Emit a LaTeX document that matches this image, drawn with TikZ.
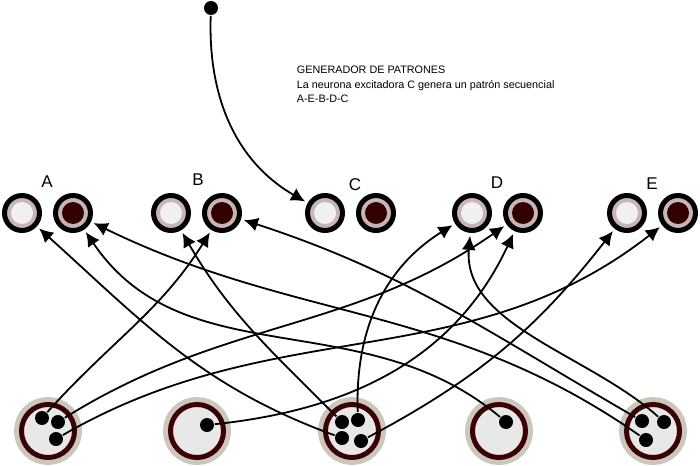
\documentclass[tikz,border=0pt]{standalone}
\usepackage{fontspec}
\setmainfont{Liberation Sans}
\usetikzlibrary{arrows.meta, calc}

\definecolor{anillo}{HTML}{C9B5B4}
\definecolor{nucleoclaro}{HTML}{F0F0F0}
\definecolor{nucleooscuro}{HTML}{330000}
\definecolor{halo}{HTML}{CCC7BD}
\definecolor{borde}{HTML}{3A0202}
\definecolor{cuerpo}{HTML}{E8E8E8}

\begin{document}
\begin{tikzpicture}[x=0.5pt, y=0.5pt, >={Latex[length=7pt, width=7pt]}, line width=0.9pt]

  % --- CONFIGURACIÓN GENERAL ---
  % alturas de las dos filas (px hacia abajo)
  \def\yTop{-213}
  \def\yBot{-431}
  % separación entre las dos neuronas de cada par
  \def\dxPar{51}

  \tikzset{
    exc/.style={circle, draw=black, line width=2.5pt, fill=anillo,
      minimum size=17.5pt, inner sep=0pt,
      path picture={\fill[nucleoclaro] (path picture bounding box.center) circle (5.5pt);}},
    inh/.style={circle, draw=black, line width=2.5pt, fill=anillo,
      minimum size=17.5pt, inner sep=0pt,
      path picture={\fill[nucleooscuro] (path picture bounding box.center) circle (5.5pt);}},
    motora/.style={circle, draw=borde, line width=2.5pt, fill=cuerpo,
      minimum size=26.5pt, inner sep=0pt,
      preaction={draw=halo, line width=7.5pt}},
    punto/.style={circle, fill=black, minimum size=7pt, inner sep=0pt},
    etiqueta/.style={font=\fontsize{8.5}{10}\selectfont, inner sep=0pt},
    sinapsis/.style={->, shorten >=1.5pt}
  }

  \useasboundingbox (0,0) rectangle (700,-465);

  % --- FILA SUPERIOR (pares A..E) ---
  \foreach \nom/\x/\xl/\yl in {A/22/47/-182, B/171/198/-180, C/325/355/-185, D/472/497/-183, E/627/652/-184} {
    \node[exc] (\nom1) at (\x, \yTop) {};
    \node[inh] (\nom2) at (\x+\dxPar, \yTop) {};
    \node[etiqueta] (lab\nom) at (\xl, \yl) {\nom};
  }

  % --- FILA INFERIOR ---
  \foreach \i/\x in {1/48, 2/197, 3/352, 4/499, 5/653} {
    \node[motora] (M\i) at (\x, \yBot) {};
  }

  % terminales (puntos negros)
  \node[punto] (m1a) at ($(M1)+(-6,13)$) {};
  \node[punto] (m1b) at ($(M1)+(10,9)$) {};
  \node[punto] (m1c) at ($(M1)+(8,-8)$) {};
  \node[punto] (m2a) at ($(M2)+(10,6)$) {};
  \node[punto] (m3a) at ($(M3)+(-10,9)$) {};
  \node[punto] (m3b) at ($(M3)+(6,11)$) {};
  \node[punto] (m3c) at ($(M3)+(-10,-7)$) {};
  \node[punto] (m3d) at ($(M3)+(9,-10)$) {};
  \node[punto] (m4a) at ($(M4)+(7,9)$) {};
  \node[punto] (m5a) at ($(M5)+(-11,10)$) {};
  \node[punto] (m5b) at ($(M5)+(11,9)$) {};
  \node[punto] (m5c) at ($(M5)+(-7,-9)$) {};

  % --- GENERADOR ---
  \node[punto] (gen) at (211,-8) {};
  \draw[sinapsis] (gen) to[out=-92, in=150] (C1);

  % ancla en la línea base de la última línea
  \node[font=\fontsize{5.4}{7.3}\selectfont, align=left, anchor=base west, inner sep=0pt] (texto) at (296,-103)
    {GENERADOR DE PATRONES\\La neurona excitadora C genera un patrón secuencial\\A-E-B-D-C};

  % --- CONEXIONES ---
  % desde M1
  \draw[sinapsis] (m1a) to[out=48, in=-122] (B2);
  \draw[sinapsis] (m1b) to[out=32, in=-145] (D2);
  \draw[sinapsis] (m1c) to[out=30, in=-142] (E2);
  % desde M2
  \draw[sinapsis] (m2a) to[out=6, in=-115] (D2);
  % desde M3
  \draw[sinapsis] (m3a) to[out=135, in=-60] (B1);
  \draw[sinapsis] (m3b) to[out=92, in=-148] (D1);
  \draw[sinapsis] (m3c) to[out=160, in=-42] (A1);
  \draw[sinapsis] (m3d) to[out=28, in=-128] (E1);
  % desde M4
  \draw[sinapsis] (m4a) to[out=140, in=-56] (A2);
  % desde M5
  \draw[sinapsis] (m5a) to[out=150, in=-18] (B2);
  \draw[sinapsis] (m5b) to[out=138, in=-95, looseness=0.9] (D1);
  \draw[sinapsis] (m5c) to[out=145, in=-26] (A2);

\end{tikzpicture}
\end{document}
